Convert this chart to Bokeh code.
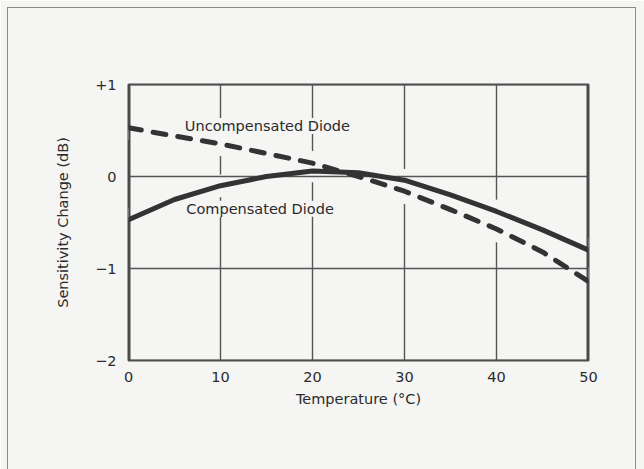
from bokeh.plotting import figure
from bokeh.models import Label, FixedTicker, InlineStyleSheet
from bokeh.embed import file_html
from bokeh.resources import INLINE

# ---- data ----
temperature = [0, 5, 10, 15, 20, 25, 30, 35, 40, 45, 50]
uncompensated = [0.53, 0.44, 0.355, 0.25, 0.145, 0.0, -0.16, -0.36, -0.57, -0.82, -1.14]
compensated = [-0.47, -0.25, -0.1, 0.0, 0.06, 0.04, -0.04, -0.2, -0.38, -0.58, -0.8]
x_ticks = [0, 10, 20, 30, 40, 50]
y_ticks = [-2, -1, 0, 1]
y_tick_labels = {-2: "\u22122", -1: "\u22121", 0: "0", 1: "+1"}

FONT = "DejaVu Sans"
BG = "#f5f5f3"
INK = "#2b2b2b"
GRID = "#555555"
FRAME = "#4a4a4a"

frame_css = InlineStyleSheet(css="""
:host { position: relative; }
:host::after {
  content: "";
  position: absolute;
  left: 7px; top: 7px; right: 8px; bottom: 0px;
  border-left: 1.5px solid #8a8a8a;
  border-top: 1.5px solid #8a8a8a;
  border-right: 1.5px solid #8a8a8a;
  pointer-events: none;
  z-index: 100;
}
""")

p = figure(width=644, height=469, x_range=(0, 50), y_range=(-2, 1),
           output_backend="svg", toolbar_location=None,
           min_border_left=128, min_border_right=56,
           min_border_top=84, min_border_bottom=109,
           stylesheets=[frame_css])

p.background_fill_color = BG
p.border_fill_color = BG
p.outline_line_color = FRAME
p.outline_line_width = 2

p.xaxis.ticker = FixedTicker(ticks=x_ticks)
p.yaxis.ticker = FixedTicker(ticks=y_ticks)
p.yaxis.major_label_overrides = y_tick_labels

for ax in (p.xaxis[0], p.yaxis[0]):
    ax.axis_line_color = None
    ax.major_tick_line_color = None
    ax.minor_tick_line_color = None
    ax.major_label_text_font = FONT
    ax.major_label_text_font_size = "14.5px"
    ax.major_label_text_color = INK
    ax.axis_label_text_font = FONT
    ax.axis_label_text_font_size = "14.5px"
    ax.axis_label_text_font_style = "normal"
    ax.axis_label_text_color = INK

p.xaxis.axis_label = "Temperature (\u00b0C)"
p.yaxis.axis_label = "Sensitivity Change (dB)"
p.xaxis.major_label_standoff = 5
p.yaxis.major_label_standoff = 6
p.xaxis.axis_label_standoff = 6
p.yaxis.axis_label_standoff = 21

# vertical grid lines (interrupted by the curve halos below)
p.xgrid.ticker = FixedTicker(ticks=x_ticks)
p.xgrid.grid_line_color = GRID
p.xgrid.grid_line_width = 1.4
p.ygrid.grid_line_color = None

# halos that break the vertical grid lines around the curves
p.line(temperature, compensated, line_color=BG, line_width=22)
p.line(temperature, uncompensated, line_color=BG, line_width=24)

# horizontal grid lines and the left/right frame edges, redrawn over the halos
p.hspan(y=y_ticks, line_color=GRID, line_width=1.4)
p.vspan(x=[x_ticks[0], x_ticks[-1]], line_color=FRAME, line_width=4)

# curves
p.line(temperature, compensated, line_color="#333333", line_width=5)
p.line(temperature, uncompensated, line_color="#333333", line_width=5,
       line_dash="13 12", line_cap="round")

p.add_layout(Label(x=15.1, y=0.55, text="Uncompensated Diode",
                   text_font=FONT, text_font_size="14.5px", text_color=INK,
                   text_align="center", text_baseline="middle",
                   background_fill_color=BG))
p.add_layout(Label(x=14.3, y=-0.35, text="Compensated Diode",
                   text_font=FONT, text_font_size="14.5px", text_color=INK,
                   text_align="center", text_baseline="middle",
                   background_fill_color=BG))

open("out.html", "w").write(file_html(p, INLINE))
